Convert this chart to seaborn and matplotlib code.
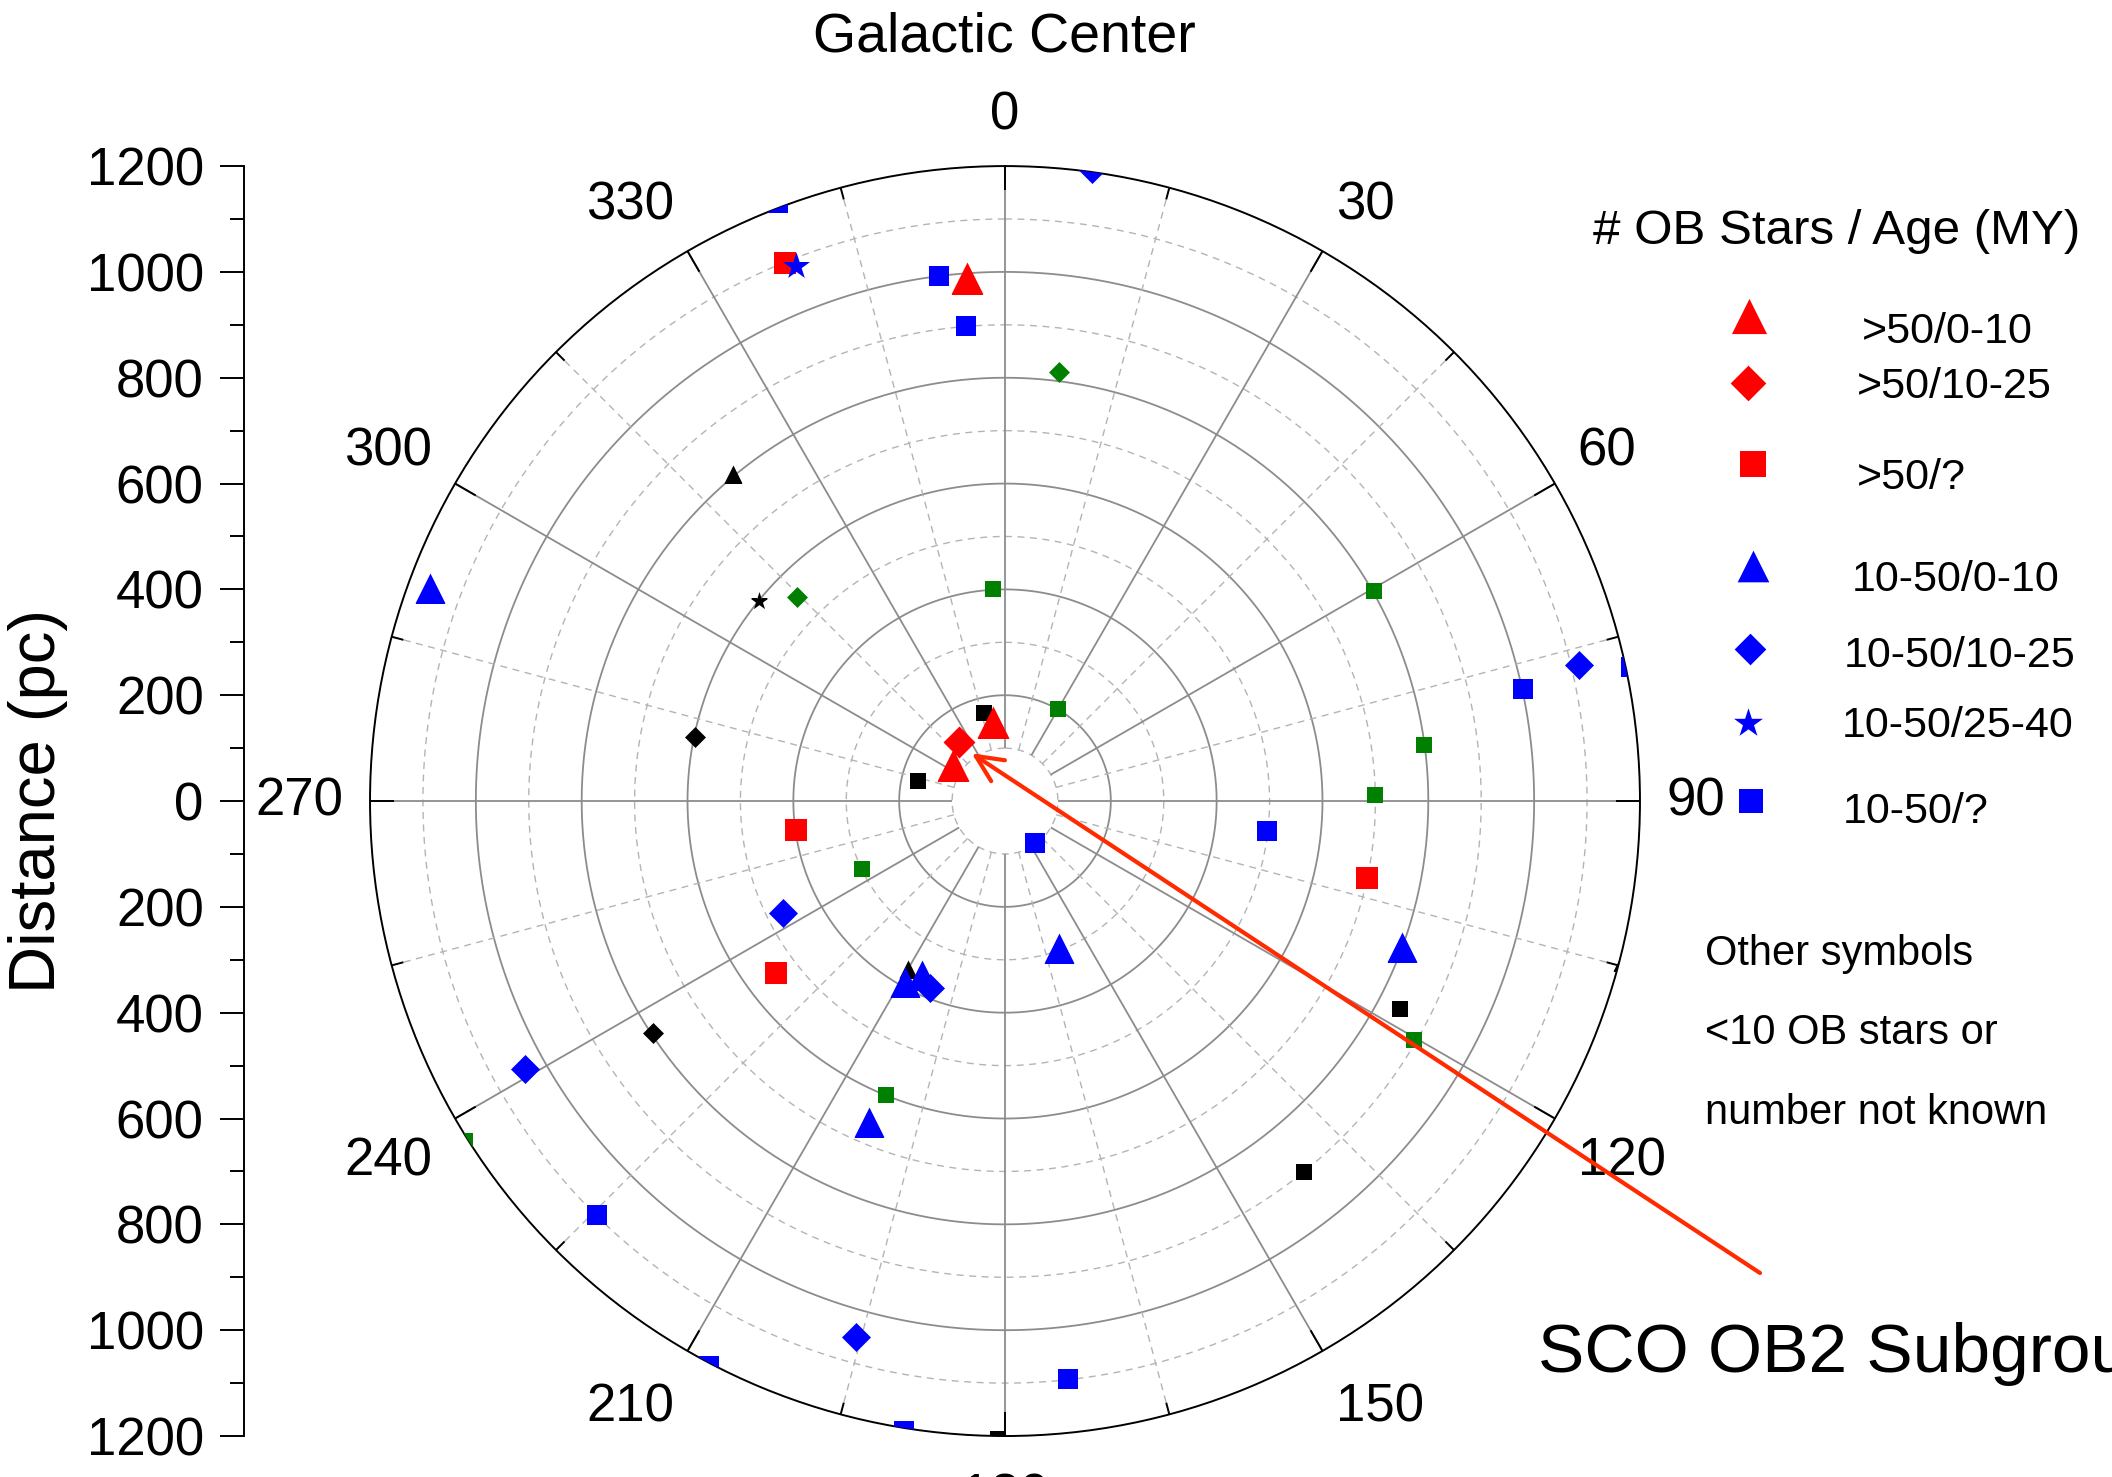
import numpy as np
import matplotlib
matplotlib.use("Agg")
import matplotlib.pyplot as plt
from matplotlib.ticker import MultipleLocator
import seaborn as sns

# galactic longitude (deg) / distance (pc) for each symbol group
red_tri_lon = [355.8, 351.2, 304.5]
red_tri_dist = [992, 151, 120]
red_dia_lon = [321.8]
red_dia_dist = [142]
red_sq_lon = [337.8, 262.2, 233.2, 102.0]
red_sq_dist = [1099, 399, 541, 700]

blue_tri_lon = [290.3, 160.0, 110.2, 203.0, 209.0, 205.6]
blue_tri_dist = [1159, 296, 800, 659, 390, 365]
blue_dia_lon = [7.8, 76.7, 243.2, 201.8, 240.8, 195.5]
blue_dia_dist = [1205, 1114, 471, 381, 1039, 1051]
blue_star_lon = [338.7]
blue_star_dist = [1086]
blue_sq_lon = [339.2, 352.8, 355.3, 77.8, 77.9, 96.5, 144.0, 173.8, 189.1, 207.7, 224.6]
blue_sq_dist = [1210, 1000, 901, 1001, 1210, 499, 98, 1098, 1205, 1205, 1099]

green_sq_lon = [30.0, 356.7, 60.4, 82.4, 89.0, 244.6, 202.0, 120.3, 237.8]
green_sq_dist = [201, 402, 802, 799, 700, 299, 600, 896, 1205]
green_dia_lon = [7.2, 314.4]
green_dia_dist = [818, 550]

black_sq_lon = [346.6, 283.1, 117.8, 141.1, 180.6]
black_sq_dist = [171, 169, 843, 900, 1205]
black_tri_lon = [320.2, 209.9, 104.6]
black_tri_dist = [804, 367, 1205]
black_star_lon = [309.1]
black_star_dist = [599]
black_dia_lon = [281.7, 236.6]
black_dia_dist = [598, 797]

legend_labels = [">50/0-10", ">50/10-25", ">50/?", "10-50/0-10",
                 "10-50/10-25", "10-50/25-40", "10-50/?"]

RED, BLUE, GREEN, BLACK = "#ff0000", "#0000ff", "#008000", "#000000"
GRID, GRID_LIGHT = "#8c8c8c", "#b4b4b4"

sns.set_theme(style="ticks")
plt.rcParams["font.family"] = ["Liberation Sans", "DejaVu Sans"]
plt.rcParams["text.color"] = "black"
plt.rcParams["axes.labelcolor"] = "black"
plt.rcParams["xtick.color"] = "black"
plt.rcParams["ytick.color"] = "black"

W, H = 2112, 1477
fig = plt.figure(figsize=(W / 100, H / 100), dpi=100)

# polar plot, centre (1005, 801) px, radius 635 px
ax = fig.add_axes([0.1752, 0.0277, 0.6013, 0.8599], projection="polar")
ax.set_theta_zero_location("N")
ax.set_theta_direction(-1)
ax.grid(False)
ax.set_xticks([])
ax.set_yticks([])
ax.spines["polar"].set_color("black")
ax.spines["polar"].set_linewidth(1.4)

full = np.linspace(0, 2 * np.pi, 721)
for r in range(200, 1200, 200):
    ax.plot(full, np.full_like(full, r), color=GRID, lw=1.3, zorder=1)
for r in range(100, 1200, 200):
    ax.plot(full, np.full_like(full, r), color=GRID_LIGHT, lw=1.0,
            ls=(0, (5, 4)), zorder=1)
major = np.deg2rad(np.arange(0, 360, 30))
minor = np.deg2rad(np.arange(15, 360, 30))
ax.vlines(major, 100, 1200, color=GRID, lw=1.3, zorder=1)
ax.vlines(minor, 100, 1200, color=GRID_LIGHT, lw=1.0,
          linestyles=(0, (5, 4)), zorder=1)
ax.vlines(major, 1155, 1200, color="black", lw=1.4, zorder=3)
ax.vlines(minor, 1177, 1200, color="black", lw=1.4, zorder=3)


def pts(lon, dist, marker, color, size):
    sns.scatterplot(x=np.deg2rad(lon), y=dist, marker=marker, color=color,
                    s=size, linewidth=0, legend=False, zorder=4, ax=ax)


pts(black_sq_lon, black_sq_dist, "s", BLACK, 117)
pts(black_tri_lon, black_tri_dist, "^", BLACK, 169)
pts(black_star_lon, black_star_dist, "*", BLACK, 186)
pts(black_dia_lon, black_dia_dist, "D", BLACK, 114)
pts(green_sq_lon, green_sq_dist, "s", GREEN, 117)
pts(green_dia_lon, green_dia_dist, "D", GREEN, 114)
pts(red_sq_lon, red_sq_dist, "s", RED, 274)
pts(red_dia_lon, red_dia_dist, "D", RED, 265)
pts(red_tri_lon, red_tri_dist, "^", RED, 530)
pts(blue_sq_lon, blue_sq_dist, "s", BLUE, 228)
pts(blue_dia_lon, blue_dia_dist, "D", BLUE, 218)
pts(blue_tri_lon, blue_tri_dist, "^", BLUE, 466)
pts(blue_star_lon, blue_star_dist, "*", BLUE, 417)

ax.set_ylim(0, 1200)
ax.set_xlabel("")
ax.set_ylabel("")

# angle labels outside the rim
for deg in range(0, 360, 30):
    t = np.deg2rad(deg)
    s, c = np.sin(t), np.cos(t)
    ha = "center" if abs(s) < 0.3 else ("left" if s > 0 else "right")
    va = "center" if abs(c) < 0.3 else ("baseline" if c > 0 else "top")
    ax.annotate(str(deg), xy=(t, 1200), xytext=(19 * s, 26 * c),
                textcoords="offset points", ha=ha, va=va, fontsize=38,
                annotation_clip=False)

# red arrow to the Sco OB2 subgroups
ax.annotate("", xy=(np.deg2rad(325.1), 110), xytext=(1760, 204),
            textcoords="figure pixels", annotation_clip=False, zorder=6,
            arrowprops=dict(arrowstyle="->,head_length=1.6,head_width=0.75",
                            color="#ff2a00", lw=3, shrinkA=0, shrinkB=0))
fig.text(1538 / W, 1 - 1354 / H, "SCO OB2 Subgroups", fontsize=50,
         ha="left", va="center")

# distance scale on the left
dax = fig.add_axes([0.1155, 0.0277, 0.02, 0.8599])
dax.patch.set_visible(False)
dax.set_ylim(-1200, 1200)
yt = np.arange(-1200, 1201, 200)
dax.set_yticks(yt)
dax.set_yticklabels([str(abs(v)) for v in yt])
dax.yaxis.set_minor_locator(MultipleLocator(100))
dax.set_xticks([])
for side in ["top", "right", "bottom"]:
    dax.spines[side].set_visible(False)
dax.spines["left"].set_linewidth(1.4)
dax.spines["left"].set_color("black")
dax.tick_params(axis="y", which="major", left=True, length=17, width=1.4,
                labelsize=38, pad=12, direction="out", color="black")
dax.tick_params(axis="y", which="minor", left=True, length=10, width=1.4,
                direction="out", color="black")

fig.text(38 / W, 1 - 801 / H, "Distance (pc)", fontsize=47, rotation=90,
         ha="center", va="center")
fig.text(1004 / W, 1 - 38 / H, "Galactic Center", fontsize=40,
         ha="center", va="center")

# hand-placed legend, as in the original figure
lax = fig.add_axes([0, 0, 1, 1])
lax.set_xlim(0, W)
lax.set_ylim(H, 0)
lax.axis("off")
leg_marker_xy = [(1749, 316), (1748, 383), (1753, 464), (1753, 566),
                 (1750, 649), (1748, 723), (1751, 801)]
leg_text_xy = [(1862, 332), (1857, 387), (1857, 478), (1852, 580),
               (1844, 656), (1842, 726), (1843, 812)]
leg_style = [("^", RED, 640), ("D", RED, 330), ("s", RED, 330),
             ("^", BLUE, 520), ("D", BLUE, 260), ("*", BLUE, 480),
             ("s", BLUE, 275)]
for (mx, my), (tx, ty), (m, col, sz), lab in zip(leg_marker_xy, leg_text_xy,
                                                  leg_style, legend_labels):
    lax.scatter([mx], [my], marker=m, color=col, s=sz, linewidth=0)
    lax.text(tx, ty, lab, fontsize=31, ha="left", va="center")
lax.text(1593, 232, "# OB Stars / Age (MY)", fontsize=35.5, ha="left", va="center")
for y, line in zip([954, 1033, 1113],
                   ["Other symbols", "<10 OB stars or", "number not known"]):
    lax.text(1705, y, line, fontsize=30, ha="left", va="center")

fig.savefig("out.png", dpi=100)
